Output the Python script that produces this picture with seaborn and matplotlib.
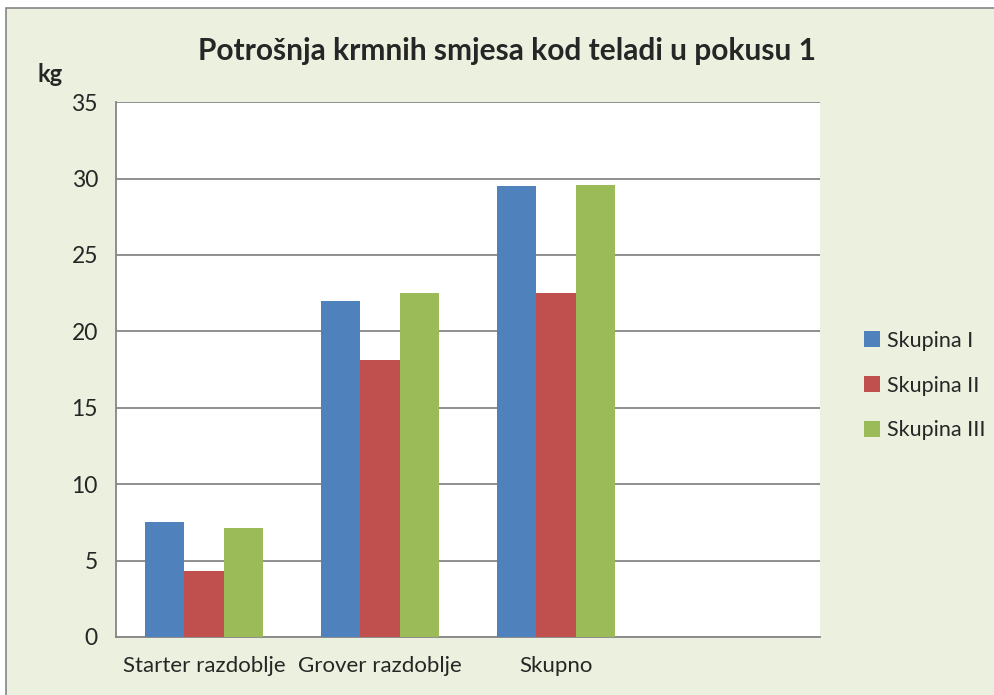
import matplotlib
matplotlib.use("Agg")
import matplotlib.pyplot as plt
from matplotlib.patches import Rectangle
import pandas as pd
import seaborn as sns

# --- data ---
razdoblja = ["Starter razdoblje", "Grover razdoblje", "Skupno"]
skupine = ["Skupina I", "Skupina II", "Skupina III"]
skupina_1 = [7.5, 22.0, 29.5]
skupina_2 = [4.3, 18.1, 22.5]
skupina_3 = [7.1, 22.5, 29.6]
boje = ["#4F81BD", "#C0504D", "#9BBB59"]

df = pd.DataFrame({
    "razdoblje": razdoblja * 3,
    "skupina": [s for s in skupine for _ in razdoblja],
    "kg": skupina_1 + skupina_2 + skupina_3,
})

sns.set_style("white")
plt.rcParams["font.family"] = ["Lato", "DejaVu Sans"]

fig = plt.figure(figsize=(9.95, 6.95), dpi=100)
fig.patch.set_facecolor("white")
# chart area background with border
fig.patches.append(Rectangle((0.006, -0.01), 1.2, 0.998, transform=fig.transFigure,
                             facecolor="#EBF1DE", edgecolor="#868686", lw=1.2, zorder=-1))

ax = fig.add_axes([0.1166, 0.0835, 0.7075, 0.7695])
sns.barplot(data=df, x="razdoblje", y="kg", hue="skupina", order=razdoblja,
            hue_order=skupine, palette=boje, width=0.667, saturation=1,
            edgecolor="none", ax=ax, zorder=3)

ax.set_xlim(-0.5, 3.5)
ax.set_ylim(0, 35)
ax.set_yticks(range(0, 36, 5))
ax.yaxis.grid(True, color="#868686", lw=1.3, zorder=0)
ax.set_axisbelow(True)
ax.set_xlabel("")
ax.set_ylabel("")
ax.set_xticks(range(len(razdoblja)))
ax.set_xticklabels(razdoblja)
ax.set_xticks([-0.5, 0.5, 1.5, 2.5, 3.5], minor=True)
ax.tick_params(axis="x", which="major", length=0, pad=14, labelsize=16)
ax.tick_params(axis="x", which="minor", length=7, width=1.3, color="#868686", direction="out")
ax.tick_params(axis="y", length=7, width=1.3, color="#868686", direction="out", pad=6, labelsize=16.5)
for s in ["top", "right"]:
    ax.spines[s].set_visible(False)
for s in ["left", "bottom"]:
    ax.spines[s].set_color("#868686")
    ax.spines[s].set_linewidth(1.3)

ax.set_title("Potrošnja krmnih smjesa kod teladi u pokusu 1", fontsize=21.5,
             fontweight="bold", pad=30, x=0.555)
fig.text(0.038, 0.893, "kg", fontsize=17, fontweight="bold", ha="left", va="center")

ax.legend(loc="center left", bbox_to_anchor=(1.035, 0.47), frameon=False, fontsize=15.5,
          handlelength=0.75, handleheight=0.75, handletextpad=0.3, labelspacing=1.15)

fig.savefig("out.png", dpi=100)
